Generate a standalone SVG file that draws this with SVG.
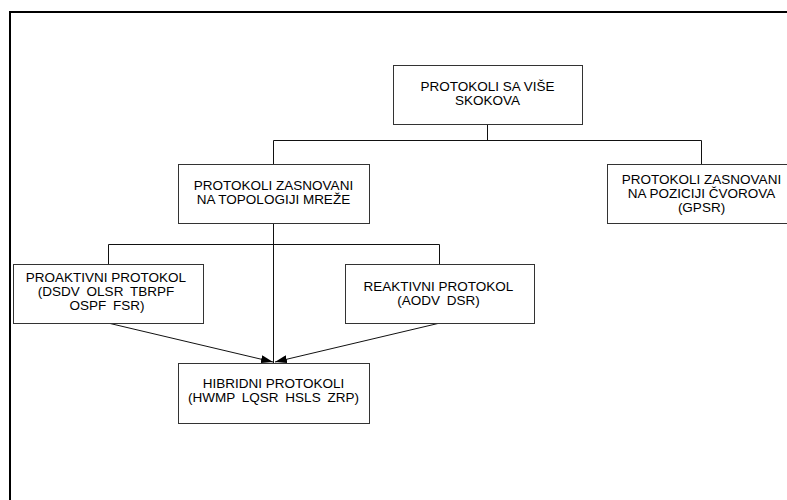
<svg xmlns="http://www.w3.org/2000/svg" width="787" height="500" viewBox="0 0 787 500">
<style>
.box{fill:#fff;stroke:#333;stroke-width:1}
.t{font-family:"Liberation Sans",Arial,sans-serif;font-size:13.5px;fill:#000;text-anchor:middle}
.w{word-spacing:3px}
.c{fill:none;stroke:#111;stroke-width:1}
</style>
<defs>
<marker id="ah" viewBox="0 0 12 8" refX="12" refY="4" markerWidth="12" markerHeight="8" markerUnits="userSpaceOnUse" orient="auto">
<path d="M0,0 L12,4 L0,8 Z" fill="#000"/>
</marker>
</defs>
<rect x="0" y="0" width="787" height="500" fill="#fff"/>
<rect x="10" y="12" width="800" height="500" fill="none" stroke="#000" stroke-width="2"/>
<g id="connectors">
<path class="c" d="M487.5,124 V140.5 M273.5,140.5 H701.5 M273.5,140.5 V164 M701.5,140.5 V164"/>
<path class="c" d="M273.5,223 V244.5 M108.5,244.5 H439.5 M108.5,244.5 V264 M439.5,244.5 V264 M273.5,244.5 V363"/>
<path class="c" d="M108,323 L273,362" marker-end="url(#ah)"/>
<path class="c" d="M440,323 L275,362" marker-end="url(#ah)"/>
</g>
<g id="n-top">
<rect class="box" x="393.5" y="65.5" width="189" height="59"/>
<text class="t" x="487.5" y="91">PROTOKOLI SA VIŠE</text>
<text class="t" x="487.5" y="105">SKOKOVA</text>
</g>
<g id="n-topologija">
<rect class="box" x="178.5" y="164.5" width="191" height="59"/>
<text class="t" x="273.5" y="190">PROTOKOLI ZASNOVANI</text>
<text class="t" x="273.5" y="204">NA TOPOLOGIJI MREŽE</text>
</g>
<g id="n-pozicija">
<rect class="box" x="607.5" y="164.5" width="190" height="59"/>
<text class="t" x="701.5" y="184">PROTOKOLI ZASNOVANI</text>
<text class="t" x="701.5" y="198">NA POZICIJI ČVOROVA</text>
<text class="t" x="701.5" y="212">(GPSR)</text>
</g>
<g id="n-proaktivni">
<rect class="box" x="13.5" y="264.5" width="190" height="59"/>
<text class="t" x="106" y="282">PROAKTIVNI PROTOKOL</text>
<text class="t w" x="106" y="296">(DSDV OLSR TBRPF</text>
<text class="t w" x="107" y="310">OSPF FSR)</text>
</g>
<g id="n-reaktivni">
<rect class="box" x="345.5" y="264.5" width="189" height="59"/>
<text class="t" x="438.5" y="291">REAKTIVNI PROTOKOL</text>
<text class="t w" x="438.5" y="305">(AODV DSR)</text>
</g>
<g id="n-hibridni">
<rect class="box" x="178.5" y="363.5" width="191" height="60"/>
<text class="t" x="273.5" y="388">HIBRIDNI PROTOKOLI</text>
<text class="t w" x="273.5" y="402">(HWMP LQSR HSLS ZRP)</text>
</g>
</svg>
